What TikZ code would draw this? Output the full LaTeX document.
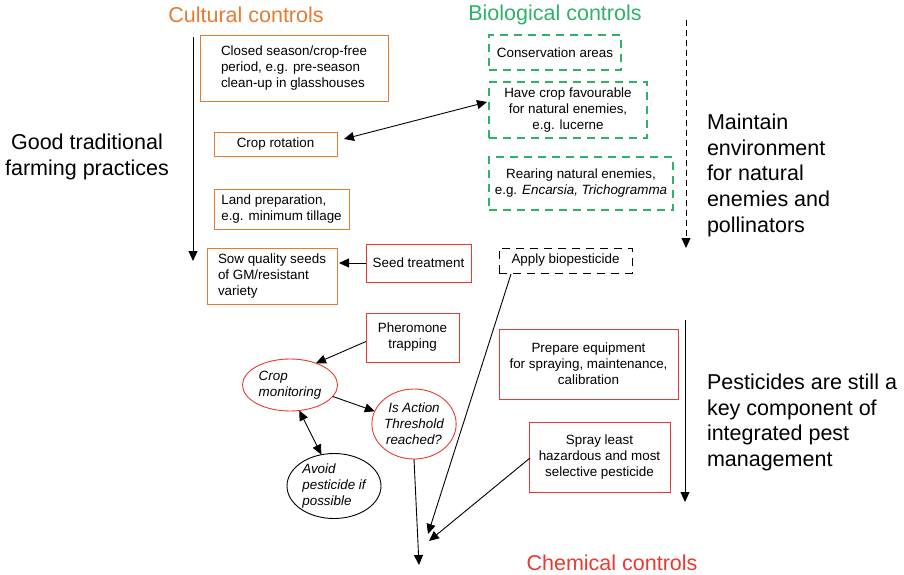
\documentclass[tikz,border=0pt]{standalone}
\usepackage{fontspec}
\setmainfont{Liberation Sans}
\usetikzlibrary{shapes.geometric,arrows.meta}
\definecolor{corange}{HTML}{E87A30}
\definecolor{cgreen}{HTML}{2DB368}
\definecolor{cred}{HTML}{E83A30}
\tikzset{
  every node/.style={inner sep=0pt, outer sep=0pt},
  boxtxt/.style={font=\fontsize{13.4}{16}\selectfont},
  obox/.style={boxtxt, draw=corange, line width=0.9pt, rectangle},
  gbox/.style={boxtxt, draw=cgreen, line width=1.1pt, dash pattern=on 8pt off 6pt, rectangle, align=center},
  kbox/.style={boxtxt, draw=black, line width=1pt, dash pattern=on 8pt off 6pt, rectangle, align=center},
  rbox/.style={boxtxt, draw=cred, line width=0.9pt, rectangle, align=center},
  rell/.style={draw=cred, line width=0.9pt, ellipse, font=\fontsize{13.4}{16}\selectfont\itshape},
  kell/.style={draw=black, line width=0.9pt, ellipse, font=\fontsize{13.4}{16}\selectfont\itshape},
  title/.style={font=\fontsize{21.5}{24}\selectfont},
  side/.style={font=\fontsize{21.5}{25.7}\selectfont, align=left},
  arr/.style={line width=0.9pt, -{Triangle[length=10pt,width=9pt]}},
  darr/.style={line width=0.9pt, {Triangle[length=10pt,width=9pt]}-{Triangle[length=10pt,width=9pt]}},
}
\begin{document}
\begin{tikzpicture}[x=1pt,y=-1pt]
\useasboundingbox (0,0) rectangle (904,575);
% titles
\node[title, text=corange] (tcult) at (246,15) {Cultural controls};
\node[title, text=cgreen] (tbio) at (555,15) {Biological controls};
\node[title, text=cred] (tchem) at (612,563) {Chemical controls};
% side texts
\node[side, align=center] (good) at (87,157) {Good traditional\\farming practices};
\node[side, anchor=north west] (maint) at (707,114) {Maintain\\environment\\for natural\\enemies and\\pollinators};
\node[side, anchor=north west] (pest) at (707,374) {Pesticides are still a\\key component of\\integrated pest\\management};
% cultural boxes
\node[obox, minimum width=188, minimum height=66, align=left] (closed) at (294,68) {Closed season/crop-free\\period, e.g. pre-season\\clean-up in glasshouses};
\node[obox, minimum width=123, minimum height=24, align=center] (rot) at (275.5,144) {Crop rotation};
\node[obox, minimum width=135, minimum height=40, align=left] (land) at (281.5,209) {Land preparation,\\e.g. minimum tillage};
\node[obox, minimum width=130, minimum height=56, align=left] (sow) at (272,276) {Sow quality seeds\\of GM/resistant\\variety};
\node[rbox, minimum width=105, minimum height=38] (seed) at (418.5,263) {Seed treatment};
% biological boxes
\node[gbox, minimum width=132, minimum height=35] (cons) at (555,52.5) {Conservation areas};
\node[gbox, minimum width=158, minimum height=56] (have) at (568,110) {Have crop favourable\\for natural enemies,\\e.g. lucerne};
\node[gbox, minimum width=184, minimum height=53] (rear) at (581,183.5) {Rearing natural enemies,\\e.g. \textit{Encarsia, Trichogramma}};
\node[kbox, minimum width=133, minimum height=25] (apply) at (565.5,260.5) {Apply biopesticide};
% chemical boxes
\node[rbox, minimum width=93, minimum height=49] (pher) at (412.5,337.5) {Pheromone\\trapping};
\node[rbox, minimum width=179, minimum height=70] (prep) at (588.5,364) {Prepare equipment\\for spraying, maintenance,\\calibration};
\node[rbox, minimum width=141, minimum height=70] (spray) at (599.5,457) {Spray least\\hazardous and most\\selective pesticide};
% ellipses
\node[rell, minimum width=95, minimum height=52, align=left] (cm) at (290,385) {Crop\\monitoring};
\node[rell, minimum width=83, minimum height=70, align=center] (thr) at (414,424) {Is Action\\Threshold\\reached?};
\node[kell, minimum width=94, minimum height=65, align=left] (avoid) at (334,486) {Avoid\\pesticide if\\possible};
% coordinates for free ends
\coordinate (ca1) at (193,37);
\coordinate (ca2) at (193,261);
\coordinate (ba1) at (686,20);
\coordinate (ba2) at (686,248);
\coordinate (cha1) at (685,320);
\coordinate (cha2) at (685,502);
\coordinate (end) at (419,565);
\coordinate (m1) at (428,534);
\coordinate (m2) at (429,541);
\coordinate (aps) at (511,274);
\coordinate (sps) at (530,458);
% connectors
\draw[arr] (ca1) -- (ca2);
\draw[arr, line width=1pt, dash pattern=on 6pt off 4pt] (ba1) -- (ba2);
\draw[arr] (cha1) -- (cha2);
\draw[darr] ([xshift=7pt,yshift=5pt]rot.east) -- ([xshift=-2pt,yshift=8pt]have.west);
\draw[arr] (seed.west) -- ([xshift=2pt]sow.east |- seed.west);
\draw[arr] ([yshift=-4pt]pher.west) -- (cm.40);
\draw[arr] (cm.-15) -- (thr.162);
\draw[darr] (cm.-70) -- (avoid.112);
\draw[arr] (thr.south) -- (end);
\draw[arr] (aps) -- (m1);
\draw[arr] (sps) -- (m2);
\end{tikzpicture}
\end{document}
